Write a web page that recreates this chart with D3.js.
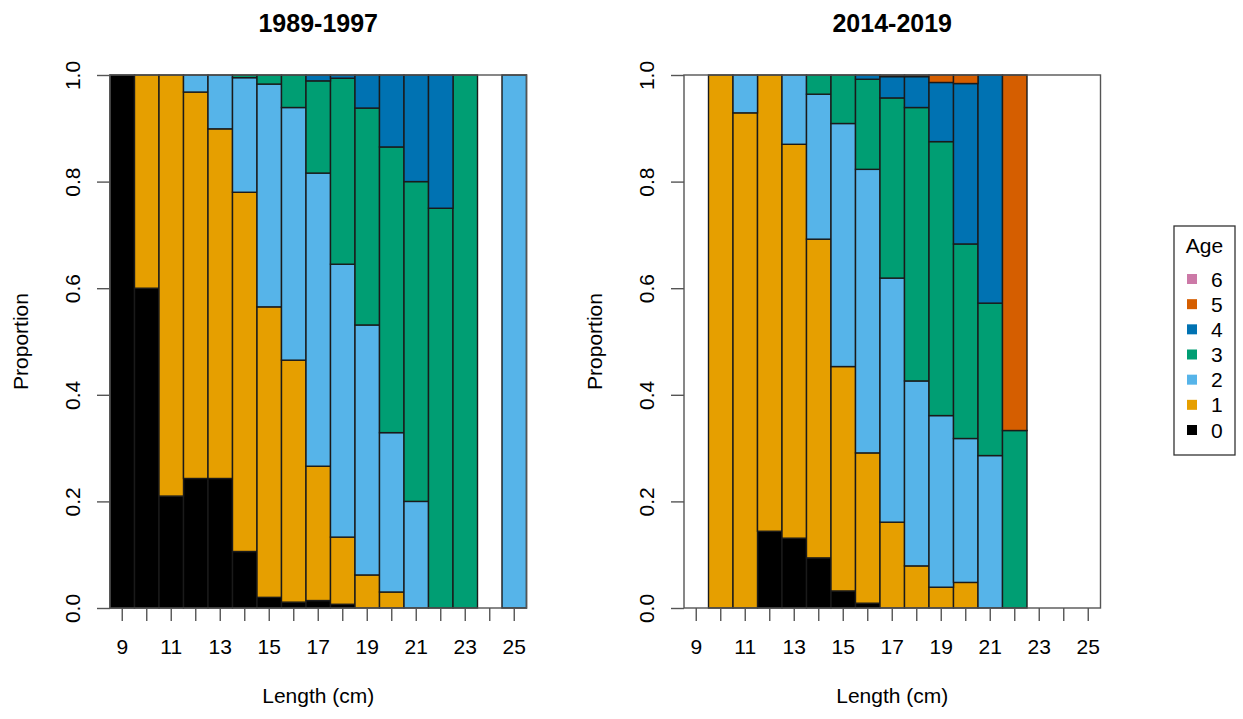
<!DOCTYPE html>
<html>
<head>
<meta charset="utf-8">
<script src="https://cdn.jsdelivr.net/npm/d3@7/dist/d3.min.js"></script>
<style>
  html, body { margin: 0; padding: 0; background: #fff; }
  svg { display: block; font-family: "Liberation Sans", Arial, sans-serif; }
</style>
</head>
<body>
<svg id="chart" width="1243" height="719"></svg>
<script>
// ---- Data ----
const lengths = [9, 10, 11, 12, 13, 14, 15, 16, 17, 18, 19, 20, 21, 22, 23, 24, 25];
const ages = [0, 1, 2, 3, 4, 5, 6];
const ageColors = ["#000000", "#E69F00", "#56B4E9", "#009E73", "#0072B2", "#D55E00", "#CC79A7"];
const yTicks = [0, 0.2, 0.4, 0.6, 0.8, 1.0];
const panelTitles = ["1989-1997", "2014-2019"];

// 1989-1997 proportions by age (per length 9..25)
const p1_age0 = [1.0, 0.60, 0.21, 0.243, 0.243, 0.106, 0.020, 0.011, 0.014, 0.007, 0, 0, 0, 0, 0, 0, 0];
const p1_age1 = [0, 0.40, 0.79, 0.725, 0.656, 0.674, 0.545, 0.454, 0.252, 0.126, 0.062, 0.030, 0, 0, 0, 0, 0];
const p1_age2 = [0, 0, 0, 0.032, 0.101, 0.215, 0.418, 0.474, 0.550, 0.512, 0.469, 0.299, 0.200, 0, 0, 0, 1.0];
const p1_age3 = [0, 0, 0, 0, 0, 0.005, 0.017, 0.061, 0.173, 0.349, 0.407, 0.536, 0.600, 0.75, 1.0, 0, 0];
const p1_age4 = [0, 0, 0, 0, 0, 0, 0, 0, 0.011, 0.006, 0.062, 0.135, 0.200, 0.25, 0, 0, 0];
const p1_age5 = [0, 0, 0, 0, 0, 0, 0, 0, 0, 0, 0, 0, 0, 0, 0, 0, 0];
const p1_age6 = [0, 0, 0, 0, 0, 0, 0, 0, 0, 0, 0, 0, 0, 0, 0, 0, 0];

// 2014-2019 proportions by age (per length 9..25)
const p2_age0 = [0, 0, 0, 0.144, 0.131, 0.094, 0.032, 0.009, 0, 0, 0, 0, 0, 0, 0, 0, 0];
const p2_age1 = [0, 1.0, 0.929, 0.856, 0.739, 0.598, 0.421, 0.282, 0.161, 0.079, 0.039, 0.048, 0, 0, 0, 0, 0];
const p2_age2 = [0, 0, 0.071, 0, 0.130, 0.272, 0.456, 0.532, 0.458, 0.347, 0.322, 0.270, 0.286, 0, 0, 0, 0];
const p2_age3 = [0, 0, 0, 0, 0, 0.036, 0.091, 0.169, 0.338, 0.513, 0.514, 0.365, 0.286, 0.333, 0, 0, 0];
const p2_age4 = [0, 0, 0, 0, 0, 0, 0, 0.008, 0.040, 0.058, 0.111, 0.301, 0.428, 0, 0, 0, 0];
const p2_age5 = [0, 0, 0, 0, 0, 0, 0, 0, 0.003, 0.003, 0.014, 0.016, 0, 0.667, 0, 0, 0];
const p2_age6 = [0, 0, 0, 0, 0, 0, 0, 0, 0, 0, 0, 0, 0, 0, 0, 0, 0];

const panelSeries = [
  [p1_age0, p1_age1, p1_age2, p1_age3, p1_age4, p1_age5, p1_age6],
  [p2_age0, p2_age1, p2_age2, p2_age3, p2_age4, p2_age5, p2_age6]
];

// ---- Layout ----
const svg = d3.select("#chart");
const panels = [
  { left: 110, right: 526.5 },
  { left: 684, right: 1100.5 }
];
const plotTop = 75, plotBottom = 608;
const tickLen = 13;
const fontSize = 21;

const y = d3.scaleLinear().domain([0, 1]).range([plotBottom, plotTop]);
const color = d3.scaleOrdinal().domain(ages).range(ageColors);

panels.forEach((p, pi) => {
  const x = d3.scaleBand().domain(lengths).range([p.left, p.right]).padding(0);

  const table = lengths.map((L, i) => {
    const row = { length: L };
    ages.forEach((a, ai) => { row["a" + a] = panelSeries[pi][ai][i]; });
    return row;
  });
  const stack = d3.stack().keys(ages.map(a => "a" + a));
  const layers = stack(table);

  const g = svg.append("g");
  layers.forEach((layer, li) => {
    g.append("g")
      .selectAll("rect")
      .data(layer.filter(d => d[1] - d[0] > 0))
      .join("rect")
      .attr("x", d => x(d.data.length))
      .attr("width", x.bandwidth())
      .attr("y", d => y(d[1]))
      .attr("height", d => y(d[0]) - y(d[1]))
      .attr("fill", color(ages[li]))
      .attr("stroke", "#1a1a1a")
      .attr("stroke-width", 1.4);
  });

  // box
  svg.append("rect")
    .attr("x", p.left).attr("y", plotTop)
    .attr("width", p.right - p.left).attr("height", plotBottom - plotTop)
    .attr("fill", "none").attr("stroke", "#555").attr("stroke-width", 1.4);

  // y axis
  const yAxis = d3.axisLeft(y).tickValues(yTicks).tickFormat(d3.format(".1f"))
    .tickSize(tickLen).tickSizeOuter(0);
  const ya = svg.append("g").attr("transform", `translate(${p.left},0)`).call(yAxis);
  ya.select(".domain").remove();
  ya.selectAll(".tick line").attr("stroke", "#555").attr("stroke-width", 1.4);
  ya.selectAll(".tick text")
    .attr("transform", "rotate(-90)")
    .attr("x", 0).attr("y", -30).attr("dy", 0)
    .attr("text-anchor", "middle")
    .attr("font-size", fontSize)
    .attr("font-family", "Liberation Sans, Arial, sans-serif")
    .attr("fill", "#000");

  // x axis
  const xAxis = d3.axisBottom(x).tickSize(tickLen).tickSizeOuter(0)
    .tickFormat(d => (d % 2 === 1 ? d : ""));
  const xa = svg.append("g").attr("transform", `translate(0,${plotBottom})`).call(xAxis);
  xa.select(".domain").remove();
  xa.selectAll(".tick line").attr("stroke", "#555").attr("stroke-width", 1.4);
  xa.selectAll(".tick text")
    .attr("y", 46).attr("dy", 0)
    .attr("font-size", fontSize)
    .attr("font-family", "Liberation Sans, Arial, sans-serif")
    .attr("fill", "#000");

  const cx = (p.left + p.right) / 2;
  svg.append("text")
    .attr("x", cx).attr("y", 32)
    .attr("text-anchor", "middle")
    .attr("font-size", 25).attr("font-weight", "bold")
    .text(panelTitles[pi]);
  svg.append("text")
    .attr("x", cx).attr("y", 703)
    .attr("text-anchor", "middle")
    .attr("font-size", fontSize)
    .text("Length (cm)");
  svg.append("text")
    .attr("transform", "rotate(-90)")
    .attr("x", -(plotTop + plotBottom) / 2).attr("y", p.left - 82)
    .attr("text-anchor", "middle")
    .attr("font-size", fontSize)
    .text("Proportion");
});

// ---- Legend ----
const lg = svg.append("g");
const lgX = 1174, lgY = 226, lgW = 61, lgH = 229;
lg.append("rect").attr("x", lgX).attr("y", lgY).attr("width", lgW).attr("height", lgH)
  .attr("fill", "#fff").attr("stroke", "#333").attr("stroke-width", 1.3);
lg.append("text").attr("x", lgX + lgW / 2).attr("y", lgY + 27)
  .attr("text-anchor", "middle").attr("font-size", fontSize).text("Age");
const legendAges = ages.slice().reverse();
const itemY = d3.scalePoint().domain(legendAges).range([279, 430]);
lg.selectAll("rect.sw").data(legendAges).join("rect")
  .attr("class", "sw")
  .attr("x", 1187).attr("y", d => itemY(d) - 5)
  .attr("width", 10).attr("height", 10)
  .attr("fill", d => color(d));
lg.selectAll("text.lab").data(legendAges).join("text")
  .attr("class", "lab")
  .attr("x", 1211).attr("y", d => itemY(d) + 7.5)
  .attr("font-size", fontSize)
  .text(d => d);
</script>
</body>
</html>
